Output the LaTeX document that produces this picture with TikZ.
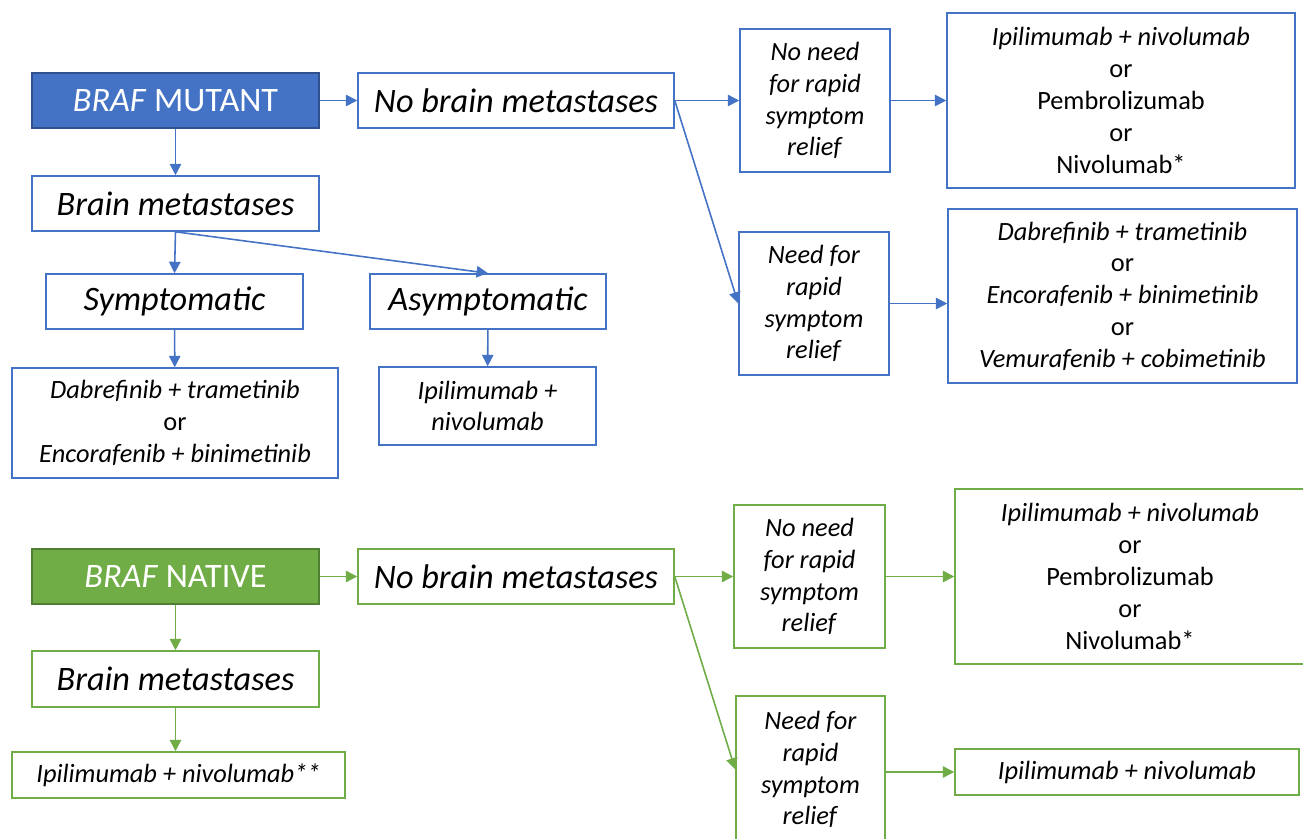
\documentclass[tikz,border=0pt]{standalone}
\usepackage{fontspec}
\setmainfont{Carlito}
\usetikzlibrary{arrows.meta}
\definecolor{blue_f}{HTML}{4472C4}
\definecolor{blue_d}{HTML}{2F528F}
\definecolor{green_f}{HTML}{70AD47}
\definecolor{green_d}{HTML}{507E32}
\tikzset{
	box/.style = {
		rectangle,
		align=center,
		inner sep=0pt,
		fill=white,
		line width=0.9pt
	},
	box_b/.style = {
		box,
		draw=blue_f
	},
	box_g/.style = {
		box,
		draw=green_f
	},
	big/.style = {
		font=\fontsize{19.5}{23}\selectfont\itshape
	},
	small/.style = {
		font=\fontsize{15}{18.1}\selectfont
	},
	head_b/.style = {
		box,
		white,
		fill=blue_f,
		draw=blue_d,
		font=\fontsize{19.5}{23}\selectfont
	},
	head_g/.style = {
		head_b,
		fill=green_f,
		draw=green_d
	},
	arr_b/.style = {
		-{Triangle[length=6.5pt,width=6.5pt]},
		line width=0.9pt,
		blue_f
	},
	arr_g/.style = {
		arr_b,
		green_f
	},
}

\begin{document}
\begin{tikzpicture}[x=0.02cm, y=-0.02cm]
\clip (0,0) rectangle (1303,839);
\fill[white] (0,0) rectangle (1303,839);

% BRAF mutant
\node [head_b, minimum width=5.74cm, minimum height=1.1cm] (mutant) at (175.5,100.5) {\textit{BRAF} MUTANT};
\node [box_b, big, minimum width=6.32cm, minimum height=1.1cm] (nobrain1) at (516,100.5) {No brain metastases};
\node [box_b, big, minimum width=5.74cm, minimum height=1.1cm] (brain1) at (175.5,203.5) {Brain metastases};
\node [box_b, big, minimum width=5.14cm, minimum height=1.1cm] (sympt) at (174.5,301.5) {Symptomatic};
\node [box_b, big, minimum width=4.72cm, minimum height=1.1cm] (asympt) at (488,301.5) {Asymptomatic};
\node [box_b, small, minimum width=6.52cm, minimum height=2.2cm] (tx1) at (175,423) {\textit{Dabrefinib + trametinib}\\or\\\textit{Encorafenib + binimetinib}};
\node [box_b, small, minimum width=4.34cm, minimum height=1.56cm] (ipi1) at (487.5,406) {\textit{Ipilimumab +}\\\textit{nivolumab}};
\node [box_b, small, minimum width=3cm, minimum height=2.86cm] (noneed1) at (815,100.5) {\textit{No need}\\\textit{for rapid}\\\textit{symptom}\\\textit{relief}};
\node [box_b, small, minimum width=3cm, minimum height=2.86cm] (need1) at (814,303.5) {\textit{Need for}\\\textit{rapid}\\\textit{symptom}\\\textit{relief}};
\node [box_b, small, minimum width=6.96cm, minimum height=3.5cm] (opt1) at (1121,100.5) {\textit{Ipilimumab + nivolumab}\\or\\Pembrolizumab\\or\\Nivolumab*};
\node [box_b, small, minimum width=6.98cm, minimum height=3.48cm] (opt2) at (1122.5,296) {\textit{Dabrefinib + trametinib}\\or\\\textit{Encorafenib + binimetinib}\\or\\\textit{Vemurafenib + cobimetinib}};

\draw [arr_b] (mutant) -- (nobrain1);
\draw [arr_b] (mutant) -- (brain1);
\draw [arr_b] (brain1.south) -- (sympt.north);
\draw [arr_b] (brain1.south) -- (asympt.north);
\draw [arr_b] (sympt) -- (tx1);
\draw [arr_b] (asympt) -- (ipi1);
\draw [arr_b] (nobrain1.east) -- (noneed1.west);
\draw [arr_b] (nobrain1.east) -- (need1.west);
\draw [arr_b] (noneed1) -- (opt1);
\draw [arr_b] (need1.east) -- (need1.east -| opt2.west);

% BRAF native
\node [head_g, minimum width=5.74cm, minimum height=1.1cm] (native) at (175.5,576.5) {\textit{BRAF} NATIVE};
\node [box_g, big, minimum width=6.32cm, minimum height=1.1cm] (nobrain2) at (516,576.5) {No brain metastases};
\node [box_g, big, minimum width=5.74cm, minimum height=1.12cm] (brain2) at (175.5,679) {Brain metastases};
\node [box_g, small, minimum width=6.66cm, minimum height=0.92cm] (ipi2) at (178.5,775) {\textit{Ipilimumab + nivolumab**}};
\node [box_g, small, minimum width=3.02cm, minimum height=2.86cm] (noneed2) at (809.5,576.5) {\textit{No need}\\\textit{for rapid}\\\textit{symptom}\\\textit{relief}};
\node [box_g, small, minimum width=2.98cm, minimum height=2.94cm] (need2) at (810.5,769.5) {\textit{Need for}\\\textit{rapid}\\\textit{symptom}\\\textit{relief}};
\node [box_g, small, minimum width=7cm, minimum height=3.5cm] (opt3) at (1130,576.5) {\textit{Ipilimumab + nivolumab}\\or\\Pembrolizumab\\or\\Nivolumab*};
\node [box_g, small, minimum width=6.88cm, minimum height=0.92cm] (ipi3) at (1127,772) {\textit{Ipilimumab + nivolumab}};

\draw [arr_g] (native) -- (nobrain2);
\draw [arr_g] (native) -- (brain2);
\draw [arr_g] (brain2.south) -- (brain2.south |- ipi2.north);
\draw [arr_g] (nobrain2.east) -- (noneed2.west);
\draw [arr_g] (nobrain2.east) -- (need2.west);
\draw [arr_g] (noneed2) -- (opt3);
\draw [arr_g] (need2.east |- ipi3.west) -- (ipi3.west);
\end{tikzpicture}
\end{document}
